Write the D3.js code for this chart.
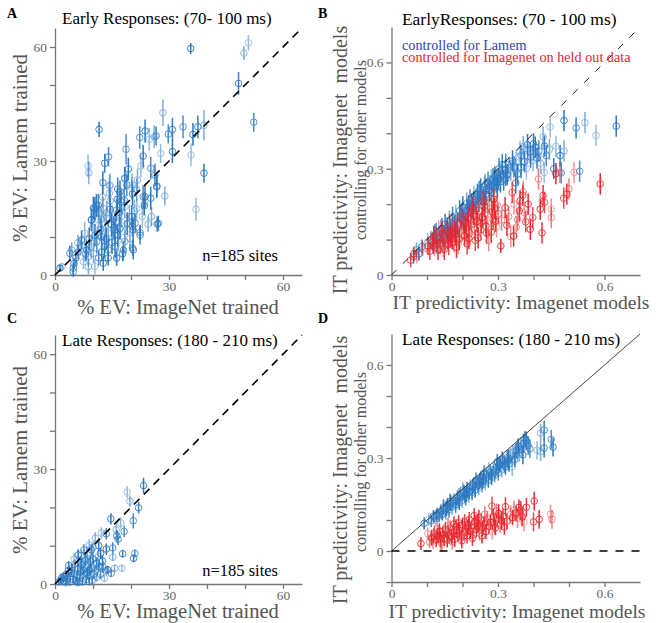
<!DOCTYPE html>
<html>
<head>
<meta charset="utf-8">
<script src="https://cdn.jsdelivr.net/npm/d3@7"></script>
<style>
  body { margin: 0; background: #fff; }
  text { font-family: "Liberation Serif", "Times New Roman", serif; }
  .axis path, .axis line { stroke: #777; stroke-width: 1.3; }
  .axis text { fill: #666; font-size: 13.5px; font-family: "Liberation Serif", serif; }
</style>
</head>
<body>
<div class="chart"></div>
<script>
// ---- data: [x, y, half error] ----
// panel A : early responses, % EV
var earlyEV = [
  [35.7,59.6,1.5],[50.9,61.1,2],[49.7,58.4,1.8],[48.3,50.4,3],[52.3,40.2,2.5],[39.2,26.8,2.5],[37.1,17.3,3],
  [39.2,39.4,4],[37.6,39.0,3],[33.7,39.0,3],[36.3,37.0,3],[35.8,31.6,3],[28.4,42.7,3.5],[30.9,38.3,3],
  [29.8,37.1,2.5],[30.9,32.5,3],[27.8,32.0,2.5],[28.9,20.8,2.5],[26.8,23.4,3],[25.2,28.1,3],[23.7,37.9,3],
  [24.8,35.7,3],[26.1,36.4,3],[26.6,36.6,2.5],[22.3,36.2,3],[23.2,31.3,3],[22.6,28.7,3],[21.7,25.0,3],
  [25.2,20.2,3],[23.2,20.6,3],[23.5,18.2,2.5],[23.0,15.4,3],[24.5,13.4,2],[26.9,13.4,2],[22.4,11.2,2],
  [11.6,38.3,2],[8.7,28.7,3],[8.9,26.9,3],[13.1,29.4,2.5],[14.1,31.1,2.5],[12.6,24.3,3],[14.3,23.4,3],
  [14.3,21.5,3],[16.5,22.6,3],[18.7,33.1,4],[19.3,27.9,3],[18.3,25.5,3],[20.3,23.7,3],[16.4,19.9,3],
  [18.2,19.8,3],[20.4,21.3,3],[20.9,16.9,3],[19.6,15.4,3],[20.4,12.8,2.5],[20.4,7.1,2],[17.8,5.6,2],
  [16.3,4.7,2],[12.2,14.7,3],[10.9,18.3,3],[9.6,14.5,3],[10.1,17.6,3],[11.7,16.3,3],
  [14.5,23.7,3],[18.4,25.4,3],[18.9,23.7,3],[17.1,21.9,3],[20.2,22.8,3],[21.5,22.4,3],[26.3,26.3,3],
  [26.8,23.2,3],[23.7,20.6,3],[23.5,18.9,3],[25.4,15.4,2.5],[27.2,13.6,2],[11.4,18.4,3],[10.5,17.5,3],
  [12.7,17.5,3],[13.6,16.4,3],[14.5,17.3,3],[16.2,17.1,3],[17.4,19.3,3],[18.4,18.0,3],[17.5,15.4,3],
  [20.2,15.4,3],[21.1,13.6,2.5],[9.6,14.5,2],[11.4,14.5,3],[13.2,13.6,3],[14.9,13.2,3],[15.8,11.8,3],
  [17.1,12.3,3],[18.4,11.4,3],[14.0,11.0,3],[12.3,10.1,3],[11.0,8.8,3],[7.0,9.2,2.5],[6.6,7.5,2.5],
  [4.4,6.6,2],[3.9,5.7,2],[6.1,6.1,2],[8.3,6.6,2.5],[8.8,4.8,2.5],[10.1,5.7,2.5],[12.3,6.1,2.5],
  [14.0,6.6,3],[15.8,7.5,3],[16.7,9.2,3],[18.4,8.8,3],[20.6,6.6,2.5],[16.2,4.4,2],[12.7,3.1,2],
  [10.5,2.2,2],[8.8,2.2,2],[4.8,1.8,1.5],[4.8,0.9,1.5],[1.3,1.8,1],[1.8,2.2,1],[19.7,9.6,3],
  [22.4,10.5,2.5],[20.6,11.8,3],[5.5,4.5,2],[7.5,3.5,2],[9.5,7.5,3],[10.5,10.5,3],[12.0,12.0,3],
  [13.5,9.5,3],[15.0,15.5,3],[16.0,14.0,3],[15.0,8.5,3],[11.5,4.5,2],[9.0,9.5,3],[7.8,11.0,3],
  [6.0,8.5,2],[13.0,7.5,3],[17.0,16.5,3],[19.0,13.5,3],[21.5,17.5,3],[14.5,19.5,3],[16.5,10.5,3],
  [8.0,5.5,2],[5.0,3.0,1.5],[10.0,12.5,3],[12.5,20.5,3],[15.5,12.5,3],[18.0,6.5,2.5],[14.0,4.5,2]
];

// panel C : late responses, % EV
var lateEV = [
  [23.3,25.7,2],[19.0,24.0,1.5],[19.7,21.6,1.5],[22.0,19.9,1.5],[20.6,16.5,2],[14.7,17.0,1.5],
  [17.3,15.9,1.5],[16.1,14.2,1.5],[16.6,11.7,1.5],[18.2,13.7,1.5],[16.3,12.6,1.5],[12.2,13.3,1.5],
  [10.6,12.0,1.5],[13.5,13.1,1.5],[15.2,9.4,1.5],[13.5,9.1,1.5],[11.4,7.2,1.5],[9.0,10.2,1.5],
  [9.6,8.9,1.5],[7.6,8.9,1.5],[6.1,7.6,1.5],[8.4,6.5,1.5],[15.2,7.0,1],[17.8,7.9,1],[21.0,8.0,1],
  [20.7,6.7,1],[17.6,4.1,1],[15.7,4.1,1],[13.9,3.7,1],[14.8,2.8,1],[12.6,4.5,1.5],[10.9,5.4,1.5],
  [10.4,2.8,1.5],[9.1,3.7,1.5],
  [1.0,0.5,0.5],[1.5,1.0,0.8],[2.0,0.6,0.8],[2.5,1.5,1],[3.0,2.5,1],[3.0,0.8,1],[3.5,3.5,1.2],
  [3.8,1.8,1],[4.0,0.5,1],[4.2,2.8,1],[4.5,4.2,1.2],[4.8,1.2,1],[5.0,3.0,1.2],[5.2,5.2,1.2],
  [5.5,0.8,1],[5.8,2.2,1.2],[6.0,4.0,1.2],[6.2,6.0,1.5],[6.5,1.5,1],[6.8,3.2,1.2],[7.0,5.0,1.2],
  [7.2,0.6,1],[7.5,2.5,1.2],[7.8,4.2,1.2],[8.0,6.2,1.5],[8.2,1.2,1],[8.5,3.0,1.2],[8.8,5.0,1.2],
  [9.0,2.0,1.2],[9.5,4.0,1.2],[9.8,1.0,1],[10.0,6.5,1.5],[10.5,3.5,1.2],[11.0,1.8,1.2],[11.5,4.5,1.2],
  [12.0,2.5,1.2],[12.5,6.0,1.5],[13.0,1.5,1],[13.5,3.5,1.2],[2.2,2.0,1],[3.3,1.3,1],[4.4,3.6,1.2],
  [5.6,1.8,1],[6.6,2.4,1.2],[7.4,3.6,1.2],[8.6,2.4,1.2],[9.3,6.0,1.5],[10.2,2.6,1.2],[2.8,0.3,0.8],
  [6.0,0.4,0.8],[9.0,0.6,0.8],[1.8,1.6,0.8],[5.0,6.5,1.5],[7.0,7.5,1.5],[3.6,4.8,1.2],[11.0,5.5,1.5],
  [12.0,8.0,1.5],[8.5,8.2,1.5],[10.0,9.5,1.5],[11.5,10.0,1.5],[6.8,5.8,1.5]
];

// panel B : early, controlled for Lamem (blue) / for Imagenet (red)
var earlyLamem = [
  [0.633,0.42,0.03],[0.576,0.394,0.03],[0.545,0.43,0.03],[0.52,0.415,0.03],[0.53,0.293,0.03],
  [0.486,0.436,0.03],[0.447,0.418,0.03],[0.486,0.35,0.03],[0.475,0.337,0.03],[0.478,0.288,0.03],
  [0.457,0.30,0.03],[0.463,0.363,0.03],[0.427,0.39,0.03],[0.431,0.364,0.03],[0.436,0.337,0.03],
  [0.405,0.361,0.03],[0.399,0.323,0.03],[0.384,0.356,0.03],[0.392,0.333,0.03],[0.365,0.337,0.03],
  [0.365,0.304,0.03],[0.351,0.318,0.03],[0.336,0.295,0.03],[0.322,0.271,0.02],[0.303,0.30,0.03],
  [0.41,0.33,0.03],[0.42,0.315,0.03],[0.39,0.345,0.03],[0.375,0.32,0.03],[0.415,0.35,0.03],
  [0.40,0.37,0.03],[0.38,0.30,0.03],[0.445,0.355,0.03],[0.355,0.285,0.03],[0.345,0.305,0.03],
  [0.35,0.26,0.03],[0.43,0.29,0.03],
  [0.07,0.072,0.02],[0.077,0.06,0.02],[0.062,0.052,0.02],[0.086,0.08,0.02],[0.102,0.093,0.025],
  [0.111,0.10,0.025],[0.118,0.084,0.025],[0.122,0.113,0.03],[0.127,0.096,0.03],[0.133,0.124,0.03],
  [0.136,0.104,0.03],[0.142,0.131,0.03],[0.147,0.112,0.03],[0.151,0.143,0.03],[0.156,0.118,0.03],
  [0.163,0.152,0.03],[0.166,0.128,0.03],[0.172,0.163,0.03],[0.177,0.139,0.03],[0.181,0.168,0.03],
  [0.186,0.147,0.03],[0.192,0.181,0.03],[0.197,0.158,0.03],[0.201,0.192,0.03],[0.206,0.167,0.03],
  [0.212,0.203,0.03],[0.216,0.178,0.03],[0.221,0.212,0.03],[0.227,0.186,0.03],[0.232,0.222,0.03],
  [0.236,0.197,0.03],[0.242,0.228,0.03],[0.246,0.208,0.03],[0.251,0.243,0.03],[0.257,0.219,0.03],
  [0.262,0.248,0.03],[0.266,0.227,0.03],[0.272,0.262,0.03],[0.276,0.238,0.03],[0.281,0.268,0.03],
  [0.287,0.251,0.03],[0.291,0.277,0.03],[0.296,0.262,0.03],[0.301,0.272,0.03],[0.306,0.286,0.03],
  [0.311,0.292,0.03],[0.316,0.268,0.03],[0.321,0.297,0.03],[0.326,0.283,0.03],[0.331,0.303,0.03],
  [0.143,0.092,0.03],[0.162,0.108,0.03],[0.183,0.128,0.03],[0.203,0.152,0.03],[0.222,0.172,0.03],
  [0.241,0.188,0.03],[0.263,0.207,0.03],[0.282,0.233,0.03],[0.298,0.248,0.03],[0.171,0.147,0.03],
  [0.193,0.166,0.03],[0.213,0.184,0.03],[0.231,0.206,0.03],[0.252,0.226,0.03],[0.268,0.243,0.03],
  [0.293,0.266,0.03],[0.312,0.312,0.03],[0.126,0.117,0.03],[0.157,0.133,0.03],[0.237,0.214,0.03],
  [0.264,0.256,0.03],[0.286,0.271,0.03],[0.322,0.313,0.03],[0.341,0.322,0.03],[0.362,0.348,0.03],
  [0.371,0.362,0.03],[0.383,0.368,0.03],[0.247,0.235,0.03],[0.218,0.196,0.03],[0.198,0.174,0.03],
  [0.277,0.252,0.03],[0.307,0.263,0.03],[0.226,0.201,0.03]
];

var earlyImagenet = [
  [0.588,0.257,0.03],[0.514,0.29,0.03],[0.50,0.243,0.03],[0.494,0.228,0.03],[0.485,0.217,0.03],
  [0.463,0.286,0.03],[0.474,0.29,0.03],[0.414,0.271,0.03],[0.427,0.224,0.03],[0.431,0.205,0.03],
  [0.419,0.186,0.03],[0.45,0.186,0.03],[0.45,0.162,0.03],[0.424,0.119,0.03],[0.398,0.162,0.03],
  [0.391,0.129,0.03],[0.374,0.176,0.03],[0.371,0.235,0.03],[0.362,0.209,0.03],[0.34,0.233,0.03],
  [0.344,0.11,0.03],[0.336,0.108,0.03],[0.355,0.157,0.03],[0.36,0.181,0.03],[0.378,0.15,0.03],
  [0.308,0.082,0.02],[0.352,0.135,0.03],[0.33,0.165,0.03],[0.32,0.19,0.03],[0.37,0.225,0.03],
  [0.385,0.2,0.03],[0.345,0.2,0.03],[0.31,0.155,0.03],[0.325,0.14,0.03],
  [0.054,0.042,0.02],[0.063,0.06,0.02],[0.071,0.053,0.02],[0.088,0.074,0.02],[0.103,0.082,0.025],
  [0.108,0.067,0.025],[0.115,0.094,0.025],[0.121,0.078,0.025],[0.126,0.105,0.03],[0.131,0.072,0.03],
  [0.137,0.089,0.03],[0.142,0.118,0.03],[0.146,0.081,0.03],[0.152,0.097,0.03],[0.157,0.123,0.03],
  [0.161,0.086,0.03],[0.167,0.108,0.03],[0.172,0.133,0.03],[0.176,0.094,0.03],[0.181,0.116,0.03],
  [0.186,0.142,0.03],[0.191,0.101,0.03],[0.196,0.124,0.03],[0.202,0.153,0.03],[0.206,0.111,0.03],
  [0.211,0.136,0.03],[0.216,0.162,0.03],[0.221,0.118,0.03],[0.226,0.143,0.03],[0.231,0.171,0.03],
  [0.236,0.098,0.03],[0.241,0.151,0.03],[0.246,0.182,0.03],[0.251,0.127,0.03],[0.256,0.163,0.03],
  [0.261,0.193,0.03],[0.266,0.138,0.03],[0.271,0.172,0.03],[0.276,0.204,0.03],[0.281,0.121,0.03],
  [0.286,0.157,0.03],[0.291,0.188,0.03],[0.296,0.136,0.03],[0.301,0.173,0.03],[0.183,0.078,0.03],
  [0.213,0.088,0.03],[0.244,0.105,0.03],[0.274,0.097,0.03],[0.196,0.163,0.03],[0.229,0.192,0.03],
  [0.258,0.209,0.03],[0.288,0.214,0.03],[0.163,0.141,0.03],[0.139,0.126,0.03],[0.119,0.109,0.03],
  [0.149,0.072,0.03],[0.171,0.102,0.03],[0.203,0.128,0.03],[0.223,0.156,0.03],[0.253,0.147,0.03],
  [0.268,0.118,0.03],[0.283,0.178,0.03],[0.298,0.198,0.03],[0.234,0.128,0.03],[0.208,0.146,0.03],
  [0.178,0.123,0.03],[0.159,0.103,0.03],[0.128,0.088,0.03],[0.263,0.183,0.03],[0.293,0.152,0.03],
  [0.239,0.166,0.03],[0.218,0.103,0.03],[0.188,0.088,0.03]
];

// panel D : late, controlled for Lamem (blue) / for Imagenet (red)
var lateLamem = [
  [0.092,0.089,0.02],[0.105,0.102,0.02],[0.42,0.38,0.03],[0.43,0.39,0.03],[0.45,0.36,0.03],
  [0.455,0.335,0.03],[0.41,0.325,0.03],[0.42,0.32,0.03],[0.43,0.332,0.03],[0.39,0.33,0.03],
  [0.37,0.31,0.03],[0.34,0.272,0.03],[0.36,0.318,0.03],[0.38,0.355,0.03],[0.385,0.34,0.03],
  [0.372,0.348,0.03],[0.355,0.33,0.03],[0.349,0.308,0.03],[0.33,0.298,0.03],
  [0.112,0.097,0.02],[0.118,0.112,0.02],[0.124,0.104,0.02],[0.129,0.121,0.02],[0.134,0.113,0.02],
  [0.139,0.128,0.02],[0.143,0.118,0.02],[0.148,0.136,0.025],[0.153,0.126,0.025],[0.158,0.146,0.025],
  [0.162,0.132,0.025],[0.167,0.154,0.025],[0.171,0.141,0.025],[0.176,0.162,0.025],[0.181,0.148,0.025],
  [0.186,0.171,0.025],[0.191,0.157,0.025],[0.195,0.182,0.025],[0.199,0.164,0.025],[0.204,0.189,0.025],
  [0.209,0.172,0.025],[0.213,0.198,0.025],[0.218,0.181,0.025],[0.222,0.206,0.025],[0.227,0.189,0.025],
  [0.232,0.213,0.025],[0.236,0.197,0.025],[0.241,0.221,0.025],[0.246,0.206,0.025],[0.251,0.232,0.025],
  [0.255,0.214,0.025],[0.259,0.238,0.025],[0.264,0.221,0.025],[0.268,0.247,0.025],[0.273,0.229,0.025],
  [0.278,0.254,0.025],[0.282,0.238,0.025],[0.287,0.263,0.025],[0.291,0.246,0.025],[0.296,0.271,0.025],
  [0.301,0.252,0.025],[0.306,0.281,0.025],[0.311,0.262,0.025],[0.316,0.289,0.025],[0.321,0.271,0.025],
  [0.326,0.301,0.025],[0.331,0.281,0.025],[0.336,0.309,0.025],[0.342,0.318,0.025],[0.347,0.296,0.025],
  [0.352,0.324,0.025],[0.357,0.338,0.025],[0.363,0.343,0.025],[0.367,0.327,0.025],[0.376,0.362,0.025],
  [0.146,0.142,0.025],[0.165,0.16,0.025],[0.184,0.163,0.025],[0.201,0.197,0.025],[0.219,0.192,0.025],
  [0.238,0.228,0.025],[0.257,0.226,0.025],[0.274,0.261,0.025],[0.293,0.257,0.025],[0.312,0.296,0.025],
  [0.328,0.29,0.025],[0.154,0.137,0.025],[0.173,0.155,0.025],[0.193,0.176,0.025],[0.211,0.184,0.025],
  [0.229,0.208,0.025],[0.248,0.225,0.025],[0.266,0.236,0.025],[0.284,0.249,0.025],[0.303,0.276,0.025],
  [0.318,0.278,0.025],[0.127,0.116,0.02],[0.189,0.178,0.025],[0.243,0.213,0.025],[0.298,0.288,0.025],
  [0.261,0.252,0.025],[0.207,0.179,0.025]
];

var lateImagenet = [
  [0.083,0.024,0.02],[0.102,0.056,0.02],[0.107,0.029,0.02],[0.402,0.161,0.03],[0.40,0.094,0.03],
  [0.416,0.102,0.03],[0.448,0.119,0.03],[0.452,0.102,0.03],[0.38,0.141,0.03],[0.364,0.132,0.03],
  [0.368,0.11,0.03],[0.373,0.094,0.03],[0.345,0.132,0.03],[0.321,0.143,0.03],[0.283,0.145,0.03],
  [0.302,0.121,0.03],[0.335,0.118,0.03],[0.355,0.105,0.03],[0.31,0.098,0.03],[0.29,0.088,0.03],
  [0.113,0.043,0.025],[0.117,0.031,0.025],[0.121,0.058,0.025],[0.126,0.037,0.025],[0.131,0.049,0.025],
  [0.135,0.064,0.025],[0.139,0.028,0.025],[0.144,0.053,0.025],[0.148,0.041,0.025],[0.152,0.069,0.025],
  [0.157,0.036,0.025],[0.161,0.057,0.025],[0.165,0.074,0.025],[0.169,0.046,0.025],[0.174,0.062,0.025],
  [0.178,0.038,0.025],[0.182,0.078,0.025],[0.187,0.054,0.025],[0.191,0.068,0.025],[0.196,0.045,0.025],
  [0.2,0.083,0.025],[0.204,0.059,0.025],[0.209,0.072,0.025],[0.213,0.049,0.025],[0.217,0.087,0.025],
  [0.222,0.064,0.025],[0.226,0.077,0.025],[0.231,0.053,0.025],[0.235,0.092,0.025],[0.239,0.069,0.025],
  [0.244,0.082,0.025],[0.248,0.058,0.025],[0.252,0.098,0.025],[0.257,0.074,0.025],[0.261,0.087,0.025],
  [0.266,0.063,0.025],[0.27,0.104,0.025],[0.274,0.079,0.025],[0.279,0.093,0.025],[0.287,0.111,0.025],
  [0.293,0.076,0.025],[0.298,0.101,0.025],[0.306,0.084,0.025],[0.314,0.112,0.025],[0.325,0.096,0.025],
  [0.341,0.108,0.025],[0.129,0.072,0.025],[0.159,0.082,0.025],[0.189,0.091,0.025],[0.219,0.101,0.025],
  [0.246,0.108,0.025],[0.142,0.021,0.025],[0.171,0.029,0.025],[0.198,0.033,0.025],[0.228,0.041,0.025],
  [0.255,0.049,0.025],[0.284,0.062,0.025],[0.263,0.119,0.025],[0.233,0.114,0.025],[0.206,0.094,0.025],
  [0.176,0.087,0.025],[0.146,0.061,0.025],[0.119,0.049,0.025],[0.184,0.066,0.025],[0.216,0.076,0.025],
  [0.241,0.089,0.025],[0.268,0.096,0.025],[0.296,0.128,0.025],[0.318,0.077,0.025],[0.351,0.121,0.025],
  [0.359,0.141,0.025],[0.211,0.061,0.025],[0.162,0.048,0.025],[0.138,0.039,0.025]
];

var evTicks = [0, 10, 20, 30, 40, 50, 60];
var evLabels = [0, 30, 60];
var itTicks = [0, 0.1, 0.2, 0.3, 0.4, 0.5, 0.6];
var itLabels = [0, 0.3, 0.6];

var blue = "#2a78c2";
var red = "#e8262b";
var opac = [1, 0.6, 0.85, 0.5, 0.95];

var svg = d3.select(".chart").append("svg")
  .attr("width", 658)
  .attr("height", 623);

function fmt(v) { return d3.format("")(v); }

function drawAxes(x, y, xTicks, xLab, yTicks, yLab, yBottom) {
  var g = svg.append("g");
  g.append("g").attr("class", "axis")
    .attr("transform", `translate(0, ${y(yBottom)})`)
    .call(d3.axisBottom(x).tickValues(xTicks).tickSize(5).tickPadding(1).tickSizeOuter(0)
      .tickFormat(d => xLab.includes(d) ? fmt(d) : ""));
  g.append("g").attr("class", "axis")
    .attr("transform", `translate(${x(0)}, 0)`)
    .call(d3.axisLeft(y).tickValues(yTicks).tickSize(5).tickSizeOuter(0)
      .tickFormat(d => yLab.includes(d) ? fmt(d) : ""));
}

function drawPoints(data, x, y, color) {
  var g = svg.append("g");
  var pts = g.selectAll("g").data(data).enter().append("g")
    .attr("opacity", (d, i) => opac[(i * 3) % opac.length]);
  pts.append("line")
    .attr("x1", d => x(d[0])).attr("x2", d => x(d[0]))
    .attr("y1", d => y(d[1] - d[2])).attr("y2", d => y(d[1] + d[2]))
    .attr("stroke", color).attr("stroke-width", 1.5);
  pts.append("circle")
    .attr("cx", d => x(d[0])).attr("cy", d => y(d[1]))
    .attr("r", 3.3)
    .attr("fill", "none").attr("stroke", color).attr("stroke-width", 0.9);
}

function label(txt, x, y, size, opts) {
  opts = opts || {};
  var t = svg.append("text")
    .attr("x", x).attr("y", y)
    .attr("font-size", size)
    .attr("fill", opts.fill || "#000")
    .attr("text-anchor", opts.anchor || "start")
    .attr("font-weight", opts.bold ? "bold" : "normal")
    .style("white-space", "pre")
    .text(txt);
  if (opts.rotate) t.attr("transform", `rotate(-90, ${x}, ${y})`);
  return t;
}

// ---- panel A ----
var xA = d3.scaleLinear().domain([0, 65]).range([55, 302]);
var yA = d3.scaleLinear().domain([0, 65]).range([275, 28]);
drawAxes(xA, yA, evTicks, evLabels, evTicks, evLabels, 0);
drawPoints(earlyEV, xA, yA, blue);
svg.append("line")
  .attr("x1", xA(0)).attr("y1", yA(0)).attr("x2", xA(65)).attr("y2", yA(65))
  .attr("stroke", "#000").attr("stroke-width", 1.6).attr("stroke-dasharray", "8,6");

// ---- panel C ----
var xC = d3.scaleLinear().domain([0, 65]).range([55, 302]);
var yC = d3.scaleLinear().domain([0, 65]).range([584, 335]);
drawAxes(xC, yC, evTicks, evLabels, evTicks, evLabels, 0);
drawPoints(lateEV, xC, yC, blue);
svg.append("line")
  .attr("x1", xC(0)).attr("y1", yC(0)).attr("x2", xC(65)).attr("y2", yC(65))
  .attr("stroke", "#000").attr("stroke-width", 1.6).attr("stroke-dasharray", "8,6");

// ---- panel B ----
var xB = d3.scaleLinear().domain([0, 0.7]).range([391.5, 640]);
var yB = d3.scaleLinear().domain([0, 0.7]).range([275, 27]);
drawAxes(xB, yB, itTicks, itLabels, itTicks, itLabels, 0);
drawPoints(earlyLamem, xB, yB, blue);
drawPoints(earlyImagenet, xB, yB, red);
svg.append("line")
  .attr("x1", xB(0)).attr("y1", yB(0)).attr("x2", xB(0.7)).attr("y2", yB(0.7))
  .attr("stroke", "#000").attr("stroke-width", 0.9).attr("stroke-dasharray", "7,9");

// ---- panel D ----
var xD = d3.scaleLinear().domain([0, 0.7]).range([391.5, 640]);
var yD = d3.scaleLinear().domain([-0.1, 0.7]).range([582, 334]);
drawAxes(xD, yD, itTicks, itLabels, [-0.1].concat(itTicks), itLabels, -0.1);
drawPoints(lateLamem, xD, yD, blue);
drawPoints(lateImagenet, xD, yD, red);
svg.append("line")
  .attr("x1", xD(0)).attr("y1", yD(0)).attr("x2", xD(0.7)).attr("y2", yD(0.7))
  .attr("stroke", "#333").attr("stroke-width", 0.9);
svg.append("line")
  .attr("x1", xD(0)).attr("y1", yD(0)).attr("x2", xD(0.7)).attr("y2", yD(0))
  .attr("stroke", "#000").attr("stroke-width", 1.5).attr("stroke-dasharray", "8,8");

// ---- texts ----
label("A", 7, 18, 14, {bold: true});
label("B", 318, 18, 14, {bold: true});
label("C", 7, 323, 14, {bold: true});
label("D", 318, 323, 14, {bold: true});

label("Early Responses: (70- 100 ms)", 62, 24, 17);
label("EarlyResponses: (70 - 100 ms)", 402, 25, 17.4);
label("Late Responses: (180 - 210 ms)", 62, 346, 17);
label("Late Responses: (180 - 210 ms)", 402, 345, 17.2);

label("controlled for Lamem", 402, 50, 14.2, {fill: "#2b47a8"});
label("controlled for Imagenet on held out data", 402, 62, 14.2, {fill: red});

label("n=185 sites", 278, 261, 16.5, {anchor: "end"});
label("n=185 sites", 278, 576, 16.5, {anchor: "end"});

label("% EV: ImageNet trained", 178, 314, 20.5, {anchor: "middle", fill: "#555"});
label("% EV: ImageNet trained", 178, 618, 20.5, {anchor: "middle", fill: "#555"});
label("% EV: Lamem trained", 27, 148, 21, {anchor: "middle", fill: "#555", rotate: true});
label("% EV: Lamem trained", 27, 460, 21, {anchor: "middle", fill: "#555", rotate: true});

label("IT predictivity: Imagenet models", 521, 309, 19.5, {anchor: "middle", fill: "#555"});
label("IT predictivity: Imagenet models", 517, 618, 19.5, {anchor: "middle", fill: "#555"});
label("IT predictivity: Imagenet  models", 347, 160, 20, {anchor: "middle", fill: "#555", rotate: true});
label("controlling for other models", 366, 150, 16, {anchor: "middle", fill: "#555", rotate: true});
label("IT predictivity: Imagenet  models", 347, 470, 20, {anchor: "middle", fill: "#555", rotate: true});
label("controlling for other models", 366, 462, 16, {anchor: "middle", fill: "#555", rotate: true});
</script>
</body>
</html>
